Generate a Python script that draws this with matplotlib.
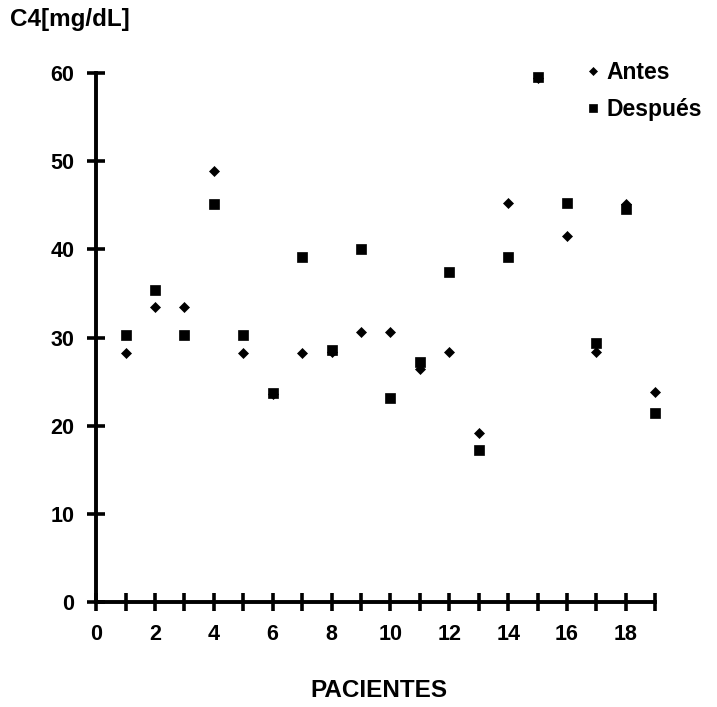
import matplotlib
matplotlib.use('Agg')
import matplotlib.pyplot as plt
from matplotlib.ticker import MultipleLocator

pacientes = list(range(1, 20))
antes = [28.2, 33.5, 33.5, 48.9, 28.2, 23.6, 28.2, 28.4, 30.6, 30.6,
         26.4, 28.4, 19.2, 45.3, 59.4, 41.5, 28.4, 45.2, 23.8]
despues = [30.3, 35.4, 30.3, 45.2, 30.3, 23.7, 39.1, 28.6, 40.0, 23.2,
           27.2, 37.4, 17.3, 39.1, 59.6, 45.3, 29.4, 44.6, 21.4]

plt.rcParams['font.family'] = ['Liberation Sans', 'DejaVu Sans']
plt.rcParams['font.weight'] = 'bold'

fig = plt.figure(figsize=(7.17, 7.07), dpi=100)
ax = fig.add_axes([0.134, 0.1485, 0.78, 0.748])

ax.plot(pacientes, antes, linestyle='none', marker='D', ms=5.5,
        color='black', mew=0.5, label='Antes', clip_on=False)
ax.plot(pacientes, despues, linestyle='none', marker='s', ms=7.5,
        color='black', mew=0.5, label='Después', clip_on=False)

ax.set_xlim(0, 19)
ax.set_ylim(0, 60)
ax.xaxis.set_major_locator(MultipleLocator(2))
ax.xaxis.set_minor_locator(MultipleLocator(1))
ax.yaxis.set_major_locator(MultipleLocator(10))

for side in ['top', 'right']:
    ax.spines[side].set_visible(False)
for side in ['left', 'bottom']:
    ax.spines[side].set_linewidth(2.8)

ax.tick_params(which='both', direction='inout', length=13, width=2.6,
               labelsize=15.5, pad=9)
ax.tick_params(axis='y', which='minor', left=False)

fig.text(0.014, 0.973, 'C4[mg/dL]', fontsize=17.5, fontweight='bold',
         va='center', ha='left')
fig.text(0.5286, 0.024, 'PACIENTES', fontsize=17.5, fontweight='bold',
         va='center', ha='center')

leg = ax.legend(loc='upper left', bbox_to_anchor=(0.801, 0.93),
                bbox_transform=fig.transFigure, frameon=False, fontsize=16.5,
                handlelength=0.6, handletextpad=0.3, labelspacing=0.6,
                borderpad=0, markerscale=0.8)

fig.savefig('out.png', dpi=100)
